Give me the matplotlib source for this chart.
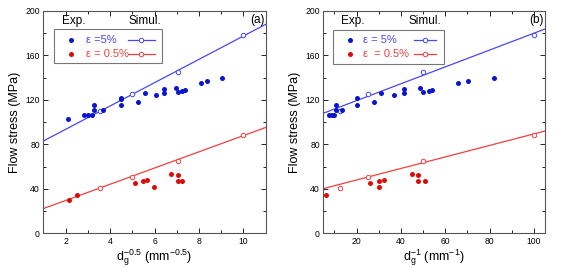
import numpy as np
import matplotlib
matplotlib.use('Agg')
import matplotlib.pyplot as plt
from matplotlib.patches import Rectangle
from matplotlib.lines import Line2D
from matplotlib.ticker import MultipleLocator

plt.rcParams['font.family'] = ['Liberation Sans', 'DejaVu Sans']
plt.rcParams['mathtext.fontset'] = 'custom'
plt.rcParams['mathtext.rm'] = 'Liberation Sans'
plt.rcParams['mathtext.it'] = 'Liberation Sans'

# panel (a): x = dg^-0.5 (mm^-0.5)
a_exp5_x = [2.1, 2.82, 3.0, 3.18, 3.3, 3.3, 3.7, 4.5, 4.5, 4.5, 5.27, 5.56, 6.05, 6.42, 6.42,
            6.98, 7.07, 7.23, 7.35, 8.08, 8.37, 9.04]
a_exp5_y = [103, 106, 106, 106, 111, 115, 111, 122, 121, 115, 118, 126, 124, 130, 126,
            131, 127, 128, 129, 135, 137, 140]
a_exp05_x = [2.15, 2.51, 5.14, 5.50, 5.68, 5.98, 6.74, 7.07, 7.05, 7.23]
a_exp05_y = [29.7, 34.7, 45, 47, 48, 42, 53.3, 52.4, 47, 47]
a_sim_x = [3.54, 5.0, 7.07, 10.0]
a_sim5_y = [110, 125, 145, 178.5]
a_sim05_y = [40.5, 51, 65, 88]
a_fit5 = (10.5, 72.5)    # slope, intercept
a_fit05 = (7.3, 14.9)

# panel (b): x = dg^-1 (mm^-1)
b_exp5_x = [7.7, 8.7, 9.8, 10.7, 10.7, 13.5, 20, 20, 27.8, 30.8, 36.7, 41.4, 41.4,
            48.7, 50.1, 52.6, 54.1, 65.6, 70.2, 82]
b_exp5_y = [106, 106, 106, 111, 115, 111, 122, 115, 118, 126, 124, 130, 126,
            131, 127, 128, 129, 135, 137, 140]
b_exp05_x = [6.0, 26.2, 30.1, 30.1, 32.2, 45.1, 47.7, 47.7, 51]
b_exp05_y = [34.8, 45.3, 47, 42, 48, 53.4, 52.2, 47, 47]
b_sim_x = [12.5, 25, 50, 100]
b_sim5_y = [110, 125, 145, 178.5]
b_sim05_y = [40.5, 51, 65, 88]
b_fit5 = (0.758, 104.2)
b_fit05 = (0.518, 37.6)

dark_blue = '#0a14d0'
light_blue = '#4848f0'
dark_red = '#dd0a0a'
light_red = '#ee4040'


def panel(ax, ex5x, ex5y, ex05x, ex05y, simx, sim5, sim05, fit5, fit05, xlim, xmaj,
          xmin, xlabel, tag, leg):
    xs = np.array(xlim)
    ax.plot(xs, fit5[0] * xs + fit5[1], color=light_blue, lw=0.9)
    ax.plot(xs, fit05[0] * xs + fit05[1], color=light_red, lw=0.9)
    ax.plot(simx, sim5, 'o', mfc='white', mec=light_blue, ms=3.2, mew=0.7)
    ax.plot(simx, sim05, 'o', mfc='white', mec=light_red, ms=3.2, mew=0.7)
    ax.plot(ex5x, ex5y, 'o', color=dark_blue, ms=3.6, mew=0)
    ax.plot(ex05x, ex05y, 'o', color=dark_red, ms=3.6, mew=0)
    ax.set_xlim(xlim)
    ax.set_ylim(0, 200)
    ax.xaxis.set_major_locator(MultipleLocator(xmaj))
    ax.xaxis.set_minor_locator(MultipleLocator(xmin))
    ax.yaxis.set_major_locator(MultipleLocator(40))
    ax.yaxis.set_minor_locator(MultipleLocator(20))
    ax.tick_params(which='both', direction='in', top=True, right=True, labelsize=6.2,
                   width=0.6, pad=2.5)
    ax.tick_params(which='major', length=3.5)
    ax.tick_params(which='minor', length=2)
    for s in ax.spines.values():
        s.set_linewidth(0.8)
        s.set_color('#555555')
    ax.set_xlabel(xlabel, fontsize=9, labelpad=1)
    ax.set_ylabel('Flow stress (MPa)', fontsize=9, labelpad=3)
    ax.text(0.962, 0.96, tag, transform=ax.transAxes, ha='center', va='center', fontsize=8.5)

    # hand made legend
    bx0, bx1, by0, by1, dotx, txtx, lx0, lx1, labels = leg
    ax.add_patch(Rectangle((bx0, by0), bx1 - bx0, by1 - by0, transform=ax.transAxes,
                           fill=False, ec='#777777', lw=0.8))
    ax.text(0.135, 0.955, 'Exp.', transform=ax.transAxes, ha='center', va='center', fontsize=8.5)
    ax.text(0.458, 0.955, 'Simul.', transform=ax.transAxes, ha='center', va='center', fontsize=8.5)
    for yy, dc, lc, lab in [(0.870, dark_blue, light_blue, labels[0]),
                            (0.807, dark_red, light_red, labels[1])]:
        ax.add_line(Line2D([dotx], [yy], marker='o', color=dc, ms=3.6, mew=0,
                           transform=ax.transAxes))
        ax.text(txtx, yy, lab, transform=ax.transAxes, ha='left', va='center',
                fontsize=8, color=lc)
        ax.add_line(Line2D([lx0, lx1], [yy, yy], color=lc, lw=0.9, transform=ax.transAxes))
        ax.add_line(Line2D([(lx0 + lx1) / 2], [yy], marker='o', mfc='white', mec=lc,
                           ms=3.2, mew=0.7, transform=ax.transAxes))


fig = plt.figure(figsize=(5.67, 2.68), dpi=100)
ax1 = fig.add_axes([0.0764, 0.1295, 0.3922, 0.8295])
ax2 = fig.add_axes([0.5702, 0.1295, 0.3910, 0.8295])

panel(ax1, a_exp5_x, a_exp5_y, a_exp05_x, a_exp05_y, a_sim_x, a_sim5_y, a_sim05_y,
      a_fit5, a_fit05, (1, 11), 2, 1,
      r'd$_\mathregular{g}^\mathregular{-0.5}$ (mm$^\mathregular{-0.5}$)', '(a)',
      (0.048, 0.534, 0.766, 0.919, 0.123, 0.192, 0.381, 0.502,
       ['\u03b5 =5%', '\u03b5 = 0.5%']))
panel(ax2, b_exp5_x, b_exp5_y, b_exp05_x, b_exp05_y, b_sim_x, b_sim5_y, b_sim05_y,
      b_fit5, b_fit05, (5, 105), 20, 10,
      r'd$_\mathregular{g}^\mathregular{-1}$ (mm$^\mathregular{-1}$)', '(b)',
      (0.045, 0.544, 0.762, 0.915, 0.12, 0.178, 0.41, 0.51,
       ['\u03b5 = 5%', '\u03b5  = 0.5%']))

fig.savefig('out.png', dpi=100)
